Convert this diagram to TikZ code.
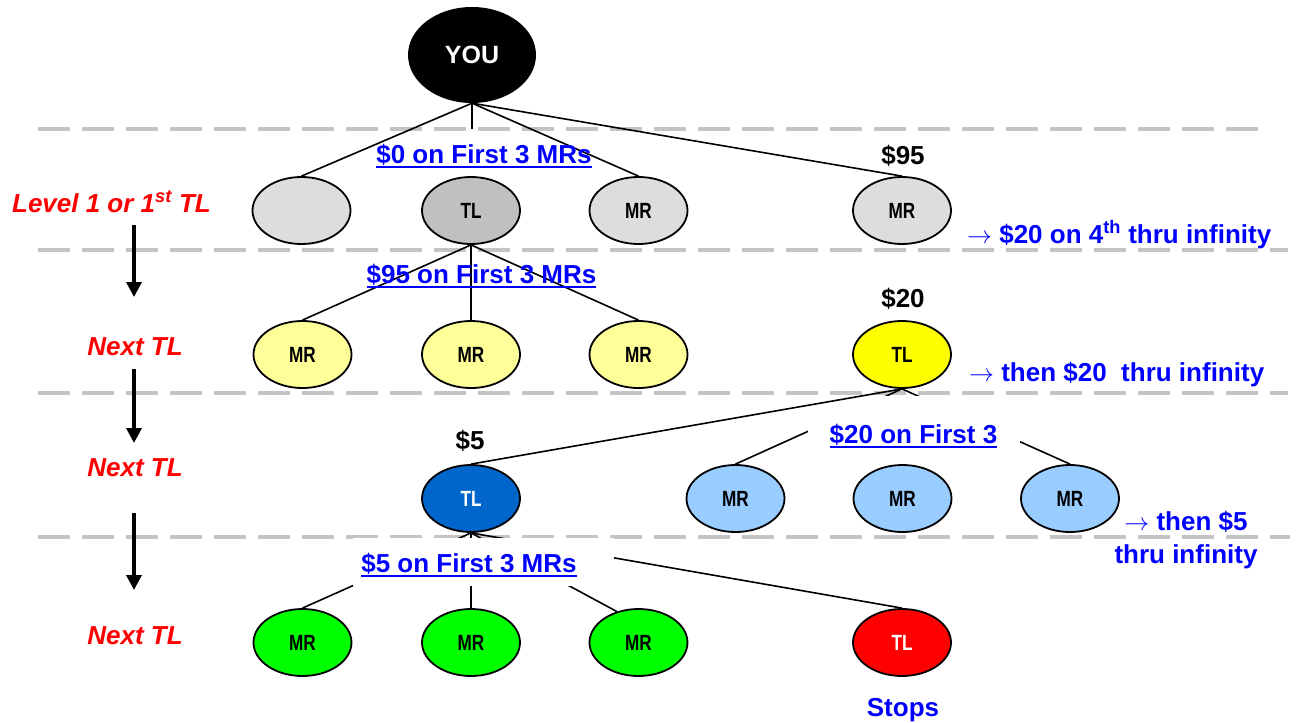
\documentclass[tikz,border=0pt]{standalone}
\usepackage{fontspec}
\setmainfont{Liberation Sans}
\newfontfamily\condfont[FakeStretch=0.78]{Liberation Sans}
\usetikzlibrary{shapes.geometric,arrows.meta}
\definecolor{sepgray}{HTML}{C4C4C4}
\definecolor{gray1}{HTML}{DDDDDD}
\definecolor{gray2}{HTML}{C0C0C0}
\definecolor{yellowlt}{HTML}{FFFF99}
\definecolor{yellowdk}{HTML}{FFFF00}
\definecolor{bluedk}{HTML}{0066CC}
\definecolor{bluelt}{HTML}{99CCFF}
\definecolor{greenf}{HTML}{00FF00}
\definecolor{redf}{HTML}{FF0000}
\definecolor{linkblue}{HTML}{0000FF}
\newsavebox\ulbox
\newcommand\ulin[1]{\sbox\ulbox{#1}\rlap{\rule[-5pt]{\wd\ulbox}{2.5pt}}\usebox\ulbox}
\newcommand\rarr{$\rightarrow$}
\begin{document}
\begin{tikzpicture}[x=1pt,y=-1pt,
  ell/.style={ellipse, draw=black, line width=1.8pt, minimum width=98pt, minimum height=67pt, inner sep=0pt,
    font={\fontsize{22}{24}\condfont\bfseries}},
  conn/.style={line width=1.6pt, draw=black},
  sepline/.style={draw=sepgray, line width=3.5pt, dash pattern=on 32pt off 12pt},
  lbl/.style={anchor=base, text=linkblue, inner sep=0pt, font={\fontsize{26}{30}\selectfont\bfseries}},
  price/.style={anchor=base, inner sep=0pt, font={\fontsize{26}{30}\selectfont\bfseries}},
  side/.style={anchor=base, inner sep=0pt, text=redf, font={\fontsize{26}{30}\selectfont\bfseries\itshape}},
  note/.style={anchor=base west, inner sep=0pt, text=linkblue, font={\fontsize{26}{30}\selectfont\bfseries}},
  downarrow/.style={line width=3.5pt, -{Triangle[width=15pt,length=15pt]}},
  mask/.style={fill=white, draw=none, inner sep=0pt}
]
\useasboundingbox (0,0) rectangle (1299,723);

% separators
\coordinate (h1a) at (38,129);  \coordinate (h1b) at (1258,129);
\coordinate (h2a) at (38,250);  \coordinate (h2b) at (1288,250);
\coordinate (h3a) at (38,393);  \coordinate (h3b) at (1288,393);
\coordinate (h4a) at (38,537);  \coordinate (h4b) at (1290,537);
\draw[sepline] (h1a) -- (h1b);
\draw[sepline] (h2a) -- (h2b);
\draw[sepline] (h3a) -- (h3b);
\draw[sepline] (h4a) -- (h4b);

% nodes
\node[ellipse, fill=black, inner sep=0pt, minimum width=128pt, minimum height=96pt, text=white,
  font={\fontsize{25}{28}\selectfont\bfseries}] (you) at (472,55) {YOU};

\node[ell, fill=gray1] (a1) at (301.5,210.5) {};
\node[ell, fill=gray2] (a2) at (471,210.5) {TL};
\node[ell, fill=gray1] (a3) at (638.5,210.5) {MR};
\node[ell, fill=gray1] (a4) at (902,210.5) {MR};

\node[ell, fill=yellowlt] (b1) at (302.5,354.5) {MR};
\node[ell, fill=yellowlt] (b2) at (471,354.5) {MR};
\node[ell, fill=yellowlt] (b3) at (638.5,354.5) {MR};
\node[ell, fill=yellowdk] (b4) at (902,354.5) {TL};

\node[ell, fill=bluedk, text=white] (c1) at (471,498.5) {TL};
\node[ell, fill=bluelt] (c2) at (735.5,498.5) {MR};
\node[ell, fill=bluelt] (c3) at (902.5,498.5) {MR};
\node[ell, fill=bluelt] (c4) at (1070,498.5) {MR};

\node[ell, fill=greenf] (d1) at (302.5,642.5) {MR};
\node[ell, fill=greenf] (d2) at (471,642.5) {MR};
\node[ell, fill=greenf] (d3) at (638.5,642.5) {MR};
\node[ell, fill=redf, text=white] (d4) at (902,642.5) {TL};

% connectors
\coordinate (v1) at (472,129);
\draw[conn] (you.south) -- (a1.north);
\draw[conn] (you.south) -- (v1);
\draw[conn] (you.south) -- (a3.north);
\draw[conn] (you.south) -- (a4.north);

\draw[conn] (a2.south) -- (b1.north);
\draw[conn] (a2.south) -- (b2.north);
\draw[conn] (a2.south) -- (b3.north);

\draw[conn] (b4.south) -- (c2.north);
\draw[conn] (b4.south) -- (c4.north);

\draw[conn] (c1.south) -- (d1.north);
\draw[conn] (c1.south) -- (d2.north);
\draw[conn] (c1.south) -- (d3.125);
\draw[conn] (c1.south) -- (d4.north);

% masks behind labels
\node[mask, minimum width=212pt, minimum height=60pt] (m3) at (914,426) {};
\node[mask, minimum width=261pt, minimum height=48pt] (m5) at (483.5,562) {};

\draw[conn] (b4.south) -- (c1.north);

% labels
\node[lbl] (l1) at (484,163) {\ulin{\$0 on First 3 MRs}};
\node[lbl] (l2) at (481.5,283) {\ulin{\$95 on First 3 MRs}};
\node[lbl] (l3) at (913.5,443) {\ulin{\$20 on First 3}};
\node[lbl] (l4) at (469,572) {\ulin{\$5 on First 3 MRs}};

\node[price] (p1) at (903,164) {\$95};
\node[price] (p2) at (903,307) {\$20};
\node[price] (p3) at (470,449) {\$5};
\node[lbl] (stops) at (903,716) {Stops};

\node[note] (n1) at (967,243) {\rarr\ \$20 on 4\textsuperscript{th} thru infinity};
\node[note] (n2) at (969,381) {\rarr\ then \$20\ \ thru infinity};
\node[anchor=base, inner sep=0pt, text=linkblue, align=center, font={\fontsize{26}{33}\selectfont\bfseries}] (n3) at (1186,563) {\rarr\ then \$5\\thru infinity};

% left side
\node[side] (s1) at (111.5,212) {Level 1 or 1\textsuperscript{st} TL};
\node[side] (s2) at (135,355) {Next TL};
\node[side] (s3) at (135,476) {Next TL};
\node[side] (s4) at (135,644) {Next TL};
\coordinate (r1a) at (134,225); \coordinate (r1b) at (134,297);
\coordinate (r2a) at (134,369); \coordinate (r2b) at (134,443);
\coordinate (r3a) at (134,513); \coordinate (r3b) at (134,590);
\draw[downarrow] (r1a) -- (r1b);
\draw[downarrow] (r2a) -- (r2b);
\draw[downarrow] (r3a) -- (r3b);
\end{tikzpicture}
\end{document}
